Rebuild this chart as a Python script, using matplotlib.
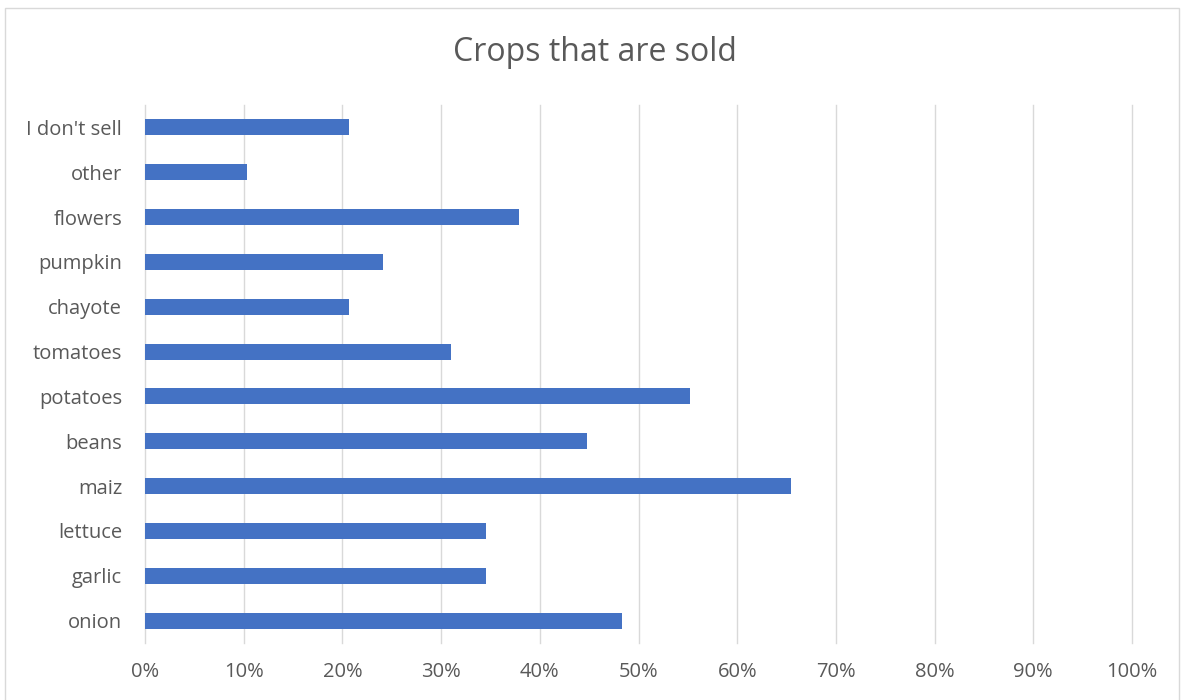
import matplotlib
matplotlib.use("Agg")
import matplotlib.pyplot as plt
from matplotlib.ticker import PercentFormatter
from matplotlib.patches import Rectangle

plt.rcParams['font.family'] = ['Open Sans', 'DejaVu Sans']

# categories listed bottom to top
crops = ['onion', 'garlic', 'lettuce', 'maiz', 'beans', 'potatoes',
         'tomatoes', 'chayote', 'pumpkin', 'flowers', 'other', "I don't sell"]
share = [0.483, 0.345, 0.345, 0.655, 0.448, 0.552,
         0.310, 0.207, 0.241, 0.379, 0.103, 0.207]
xticks = [0, 0.1, 0.2, 0.3, 0.4, 0.5, 0.6, 0.7, 0.8, 0.9, 1.0]

fig = plt.figure(figsize=(11.82, 7.0), dpi=100)
ax = fig.add_axes([0.1227, 0.0814, 0.835, 0.7686])

ax.barh(range(len(crops)), share, height=0.36, color='#4472C4', zorder=3)

ax.set_xlim(0, 1)
ax.set_ylim(-0.5, len(crops) - 0.5)
ax.set_xticks(xticks)
ax.xaxis.set_major_formatter(PercentFormatter(1.0, decimals=0))
ax.set_yticks(range(len(crops)))
ax.set_yticklabels(crops)
ax.grid(axis='x', color='#d9d9d9', linewidth=1, zorder=0)
for gl in ax.get_xgridlines():
    gl.set_clip_on(False)
ax.tick_params(axis='both', length=0, labelsize=14.5, colors='#595959')
ax.tick_params(axis='x', pad=14)
ax.tick_params(axis='y', pad=16.5)
for s in ax.spines.values():
    s.set_visible(False)

fig.text(0.503, 0.925, 'Crops that are sold', ha='center', va='center',
         fontsize=23, color='#595959')

# chart border
fig.patches.append(Rectangle((5 / 1182, -0.01), 1174 / 1182, 1 - 8 / 700 + 0.01,
                             transform=fig.transFigure, fill=False,
                             edgecolor='#d9d9d9', linewidth=1))

fig.savefig('out.png', dpi=100)
